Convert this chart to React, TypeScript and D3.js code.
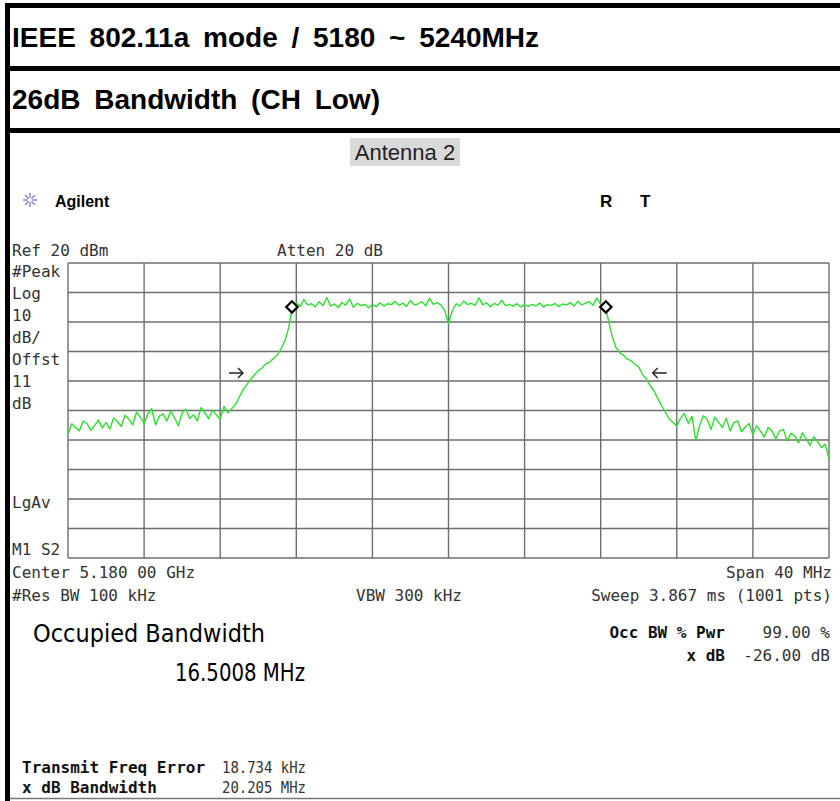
import React from 'react';
import * as d3 from 'd3';

// trace level (dBm) every 0.2 MHz from 5160 to 5200 MHz
const traceStart = 5160;
const traceStep = 0.2;
const traceLevels: number[] = [
  -38.0, -34.5, -35.8, -36.9, -33.6, -34.4, -36.8, -35.1, -33.2, -35.9,
  -34.0, -36.3, -32.5, -33.8, -35.4, -31.6, -33.0, -34.9, -30.6, -32.2,
  -34.5, -31.0, -29.4, -34.8, -32.0, -31.1, -33.6, -30.2, -32.4, -35.2,
  -30.8, -29.6, -32.7, -31.4, -33.5, -29.0, -30.9, -32.8, -29.8, -31.5,
  -33.0, -28.6, -30.8, -29.4, -28.0, -25.5, -23.0, -21.2, -19.4, -17.9,
  -16.5, -15.6, -14.2, -13.6, -12.4, -11.2, -9.0, -6.4, -2.0, 5.2,
  6.4, 5.3, 7.6, 5.8, 6.2, 5.1, 6.9, 5.5, 8.3, 5.4,
  6.1, 4.9, 6.6, 5.7, 7.8, 5.0, 6.3, 5.6, 6.0, 4.8,
  5.9, 5.2, 6.5, 5.4, 6.2, 5.9, 7.0, 5.6, 6.4, 5.3,
  7.3, 5.8, 6.1, 6.9, 5.5, 8.0, 6.0, 6.6, 5.7, 4.0,
  -0.5, 3.8, 6.2, 5.4, 7.1, 5.9, 6.4, 5.6, 8.2, 5.8,
  6.5, 5.2, 6.3, 5.7, 7.4, 5.5, 6.0, 5.4, 6.2, 5.1,
  5.8, 5.3, 6.0, 5.5, 6.4, 5.0, 5.9, 5.6, 6.3, 5.2,
  6.1, 5.7, 6.6, 5.4, 7.0, 5.8, 6.4, 6.9, 5.7, 8.1,
  6.0, 6.2, 0.8, -4.8, -8.6, -10.4, -11.3, -12.6, -13.1, -14.4,
  -15.2, -17.9, -19.2, -21.6, -23.4, -25.9, -28.3, -30.6, -32.8, -34.1,
  -35.3, -32.6, -31.0, -34.4, -32.0, -40.2, -35.0, -31.8, -33.0, -36.4,
  -32.3, -34.0, -35.8, -32.6, -36.9, -34.1, -33.5, -37.2, -35.6, -34.4,
  -38.1, -35.2, -37.0, -39.0, -35.8, -36.9, -39.6, -37.0, -36.4, -40.3,
  -37.8, -38.6, -41.0, -37.6, -39.5, -41.8, -38.9, -40.6, -42.6, -41.4,
  -46.5,
];

// occupied bandwidth edge markers (MHz, dBm)
const markerFreqs = [5171.77, 5188.27];
const markerLevels = [5.1, 5.1];
// x dB arrows (MHz, dBm), direction +1 points right
const arrowFreqs = [5168.83, 5191.1];
const arrowLevels = [-17.3, -17.3];
const arrowDirs = [1, -1];

const refLevel = 20;
const dbPerDiv = 10;
const startFreq = 5160;
const stopFreq = 5200;

const leftLabels = ['#Peak', 'Log', '10', 'dB/', 'Offst', '11', 'dB'];

const mono = '"DejaVu Sans Mono", monospace';
const sans = '"Liberation Sans", Arial, sans-serif';

export default function App() {
  const plot = { left: 68, right: 829, top: 263, bottom: 558 };
  const x = d3.scaleLinear().domain([startFreq, stopFreq]).range([plot.left, plot.right]);
  const y = d3.scaleLinear().domain([refLevel - 10 * dbPerDiv, refLevel]).range([plot.bottom, plot.top]);

  const vGrid = d3.range(0, 11).map(i => startFreq + i * (stopFreq - startFreq) / 10);
  const hGrid = d3.range(0, 11).map(i => refLevel - i * dbPerDiv);

  const line = d3.line<number>()
    .x((_, i) => x(traceStart + i * traceStep))
    .y(d => y(d));

  const small = { fontFamily: mono, fontSize: 16, fill: '#333' } as const;
  const smallBold = { fontFamily: mono, fontSize: 16, fontWeight: 700, fill: '#111' } as const;

  return (
    <svg width={840} height={801} style={{ position: 'absolute', left: 0, top: 0, background: '#fff' }}>
      {/* table frame */}
      <rect x={5} y={3} width={5} height={798} fill="#000" />
      <rect x={5} y={3} width={835} height={5} fill="#000" />
      <rect x={5} y={66} width={835} height={5} fill="#000" />
      <rect x={5} y={128} width={835} height={5} fill="#000" />
      <line x1={10} x2={840} y1={798.5} y2={798.5} stroke="#777" strokeWidth={1.5} />

      <text x={12} y={47} fontFamily={sans} fontWeight={700} fontSize={28} wordSpacing={6}>
        IEEE 802.11a mode / 5180 ~ 5240MHz
      </text>
      <text x={12} y={109} fontFamily={sans} fontWeight={700} fontSize={28} wordSpacing={6}>
        26dB Bandwidth (CH Low)
      </text>

      <rect x={350} y={138} width={110} height={28} fill="#d9d9d9" />
      <text x={405} y={160} textAnchor="middle" fontFamily={sans} fontSize={22} fill="#222">Antenna 2</text>

      {/* Agilent logo */}
      <g transform="translate(30,200)" stroke="#6a6ad0" strokeWidth={1.2}>
        {d3.range(0, 8).map(i => {
          const a = (i * Math.PI) / 4;
          return <line key={i} x1={Math.cos(a) * 2} y1={Math.sin(a) * 2} x2={Math.cos(a) * 7} y2={Math.sin(a) * 7} />;
        })}
      </g>
      <text x={55} y={207} fontFamily={sans} fontWeight={700} fontSize={16}>Agilent</text>
      <text x={600} y={207} fontFamily={sans} fontWeight={700} fontSize={17}>R</text>
      <text x={640} y={207} fontFamily={sans} fontWeight={700} fontSize={17}>T</text>

      <text x={12} y={256} {...small}>Ref 20 dBm</text>
      <text x={277} y={256} {...small}>Atten 20 dB</text>
      {leftLabels.map((t, i) => (
        <text key={t + i} x={12} y={277 + i * 22} {...small}>{t}</text>
      ))}
      <text x={12} y={508} {...small}>LgAv</text>
      <text x={12} y={555} {...small}>M1 S2</text>

      {/* grid */}
      <g stroke="#6e6e6e" strokeWidth={1.4}>
        {vGrid.map(f => <line key={'v' + f} x1={x(f)} x2={x(f)} y1={plot.top} y2={plot.bottom} />)}
        {hGrid.map(d => <line key={'h' + d} x1={plot.left} x2={plot.right} y1={y(d)} y2={y(d)} />)}
      </g>

      {/* trace */}
      <path d={line(traceLevels) ?? ''} fill="none" stroke="#2ee02e" strokeWidth={1.4} strokeLinejoin="round" />

      {markerFreqs.map((f, i) => (
        <rect key={'m' + i} x={x(f) - 4} y={y(markerLevels[i]) - 4} width={8} height={8}
          transform={`rotate(45 ${x(f)} ${y(markerLevels[i])})`} fill="#fff" stroke="#000" strokeWidth={2.2} />
      ))}
      {arrowFreqs.map((f, i) => {
        const cx = x(f);
        const cy = y(arrowLevels[i]);
        const d = arrowDirs[i];
        return (
          <path key={'a' + i}
            d={`M${cx - 7 * d},${cy} L${cx + 7 * d},${cy} M${cx + 2 * d},${cy - 5} L${cx + 7 * d},${cy} L${cx + 2 * d},${cy + 5}`}
            fill="none" stroke="#222" strokeWidth={1.4} />
        );
      })}

      <text x={12} y={578} {...small}>Center 5.180 00 GHz</text>
      <text x={832} y={578} textAnchor="end" {...small}>Span 40 MHz</text>
      <text x={12} y={601} {...small}>#Res BW 100 kHz</text>
      <text x={356} y={601} {...small}>VBW 300 kHz</text>
      <text x={832} y={601} textAnchor="end" {...small}>Sweep 3.867 ms (1001 pts)</text>

      <text x={33} y={642} fontFamily='"DejaVu Sans", sans-serif' fontSize={25} textLength={232} lengthAdjust="spacingAndGlyphs">Occupied Bandwidth</text>
      <text x={175} y={681} fontFamily='"DejaVu Sans", sans-serif' fontSize={25} textLength={130} lengthAdjust="spacingAndGlyphs">16.5008 MHz</text>

      <text x={725} y={638} textAnchor="end" {...smallBold}>Occ BW % Pwr</text>
      <text x={830} y={638} textAnchor="end" {...small}>99.00 %</text>
      <text x={725} y={661} textAnchor="end" {...smallBold}>x dB</text>
      <text x={830} y={661} textAnchor="end" {...small}>-26.00 dB</text>

      <text x={22} y={773} {...smallBold}>Transmit Freq Error</text>
      <text x={222} y={773} {...small} textLength={84} lengthAdjust="spacingAndGlyphs">18.734 kHz</text>
      <text x={22} y={793} {...smallBold}>x dB Bandwidth</text>
      <text x={222} y={793} {...small} textLength={84} lengthAdjust="spacingAndGlyphs">20.205 MHz</text>
    </svg>
  );
}
